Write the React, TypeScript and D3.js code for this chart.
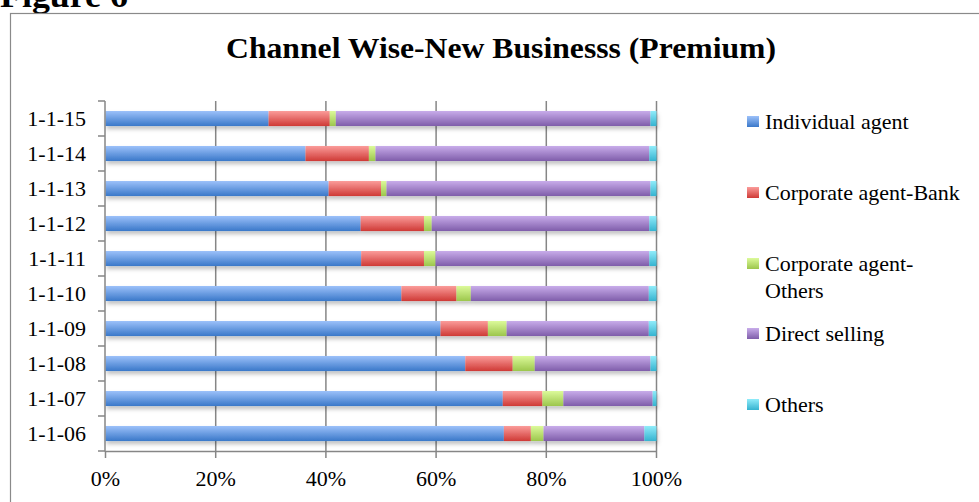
import React from "react";
import * as d3 from "d3";

const categories = ["1-1-06", "1-1-07", "1-1-08", "1-1-09", "1-1-10", "1-1-11", "1-1-12", "1-1-13", "1-1-14", "1-1-15"];
const seriesNames = ["Individual agent", "Corporate agent-Bank", "Corporate agent-Others", "Direct selling", "Others"];
const individualAgent = [72.3, 72.1, 65.3, 60.8, 53.7, 46.4, 46.3, 40.5, 36.3, 29.6];
const corporateBank = [4.9, 7.2, 8.6, 8.6, 10.0, 11.4, 11.5, 9.5, 11.5, 11.1];
const corporateOthers = [2.3, 3.8, 4.0, 3.4, 2.6, 2.1, 1.4, 1.0, 1.2, 1.1];
const directSelling = [18.3, 16.2, 21.0, 25.8, 32.3, 38.8, 39.5, 47.9, 49.7, 57.1];
const others = [2.2, 0.7, 1.1, 1.4, 1.4, 1.3, 1.3, 1.1, 1.3, 1.1];
const xTicks = [0, 20, 40, 60, 80, 100];

const gradients = [
  ["#9cc1fa", "#3a78c9"],
  ["#fb9c9a", "#cf3a36"],
  ["#dcfa9a", "#9cc64c"],
  ["#c8acea", "#7f5daa"],
  ["#90ecfa", "#35b3d0"],
];

const W = 979;
const H = 502;
const FONT = "'Liberation Serif', 'DejaVu Serif', serif";

export default function App() {
  const seriesValues = [individualAgent, corporateBank, corporateOthers, directSelling, others];
  const table = categories.map((c, i) => {
    const row: any = { cat: c };
    seriesNames.forEach((s, k) => (row[s] = seriesValues[k][i]));
    return row;
  });
  const stacked = d3.stack<any>().keys(seriesNames)(table);

  const x = d3.scaleLinear().domain([0, 100]).range([105.5, 656.5]);
  const y = d3
    .scaleBand<string>()
    .domain([...categories].reverse())
    .range([101, 451])
    .paddingInner(0.57)
    .paddingOuter(0.285);
  const step = y.step();

  const legendY = [121, 192, 263, 333, 404];

  return (
    <svg
      width={W}
      height={H}
      style={{ position: "absolute", left: 0, top: 0, display: "block", background: "#fff" }}
      fontFamily={FONT}
    >
      <defs>
        {gradients.map((g, i) => (
          <linearGradient key={i} id={`g${i}`} x1="0" y1="0" x2="0" y2="1">
            <stop offset="0" stopColor={g[0]} />
            <stop offset="1" stopColor={g[1]} />
          </linearGradient>
        ))}
        <filter id="shadow" x="-5%" y="-50%" width="110%" height="250%">
          <feDropShadow dx="1" dy="3" stdDeviation="2" floodColor="#000" floodOpacity="0.25" />
        </filter>
      </defs>
      <text x={0} y={7} fontSize={34} fontWeight="bold" fill="#000" textLength={128} lengthAdjust="spacingAndGlyphs">Figure 6</text>
      <rect x={10.5} y={13.5} width={W} height={H} fill="#fff" stroke="#8a8a8a" strokeWidth={1.2} />
      <text x={501} y={58} textAnchor="middle" fontSize={29} fontWeight="bold" fill="#000" textLength={550} lengthAdjust="spacingAndGlyphs">
        Channel Wise-New Businesss (Premium)
      </text>
      {/* gridlines */}
      {xTicks.slice(1).map((t) => (
        <line key={t} x1={x(t)} x2={x(t)} y1={101} y2={451} stroke="#868686" strokeWidth={1.5} />
      ))}
      {/* bars */}
      <g filter="url(#shadow)">
        {stacked.map((s, k) => (
          <g key={k} fill={`url(#g${k})`}>
            {s.map((d, i) => (
              <rect
                key={i}
                x={x(d[0])}
                y={y(d.data.cat)!}
                width={x(d[1]) - x(d[0])}
                height={y.bandwidth()}
              />
            ))}
          </g>
        ))}
      </g>
      {/* y axis */}
      <line x1={105} x2={105} y1={101} y2={451.5} stroke="#868686" strokeWidth={1.5} />
      {[...categories].reverse().map((c, i) => (
        <line key={"yt" + i} x1={98} x2={105} y1={101 + i * step} y2={101 + i * step} stroke="#868686" strokeWidth={1.5} />
      ))}
      <line x1={98} x2={105} y1={451} y2={451} stroke="#868686" strokeWidth={1.5} />
      {categories.map((c) => (
        <text
          key={c}
          x={86}
          y={y(c)! + y.bandwidth() / 2}
          dy="0.35em"
          textAnchor="end"
          fontSize={22}
          fill="#000"
        >
          {c}
        </text>
      ))}
      {/* x axis */}
      <line x1={105} x2={657} y1={451.5} y2={451.5} stroke="#868686" strokeWidth={1.5} />
      {xTicks.map((t) => (
        <g key={"xt" + t}>
          <line x1={x(t)} x2={x(t)} y1={451} y2={458} stroke="#868686" strokeWidth={1.5} />
          <text x={x(t)} y={478} dy="0.35em" textAnchor="middle" fontSize={22} fill="#000">
            {t}%
          </text>
        </g>
      ))}
      {/* legend */}
      {seriesNames.map((s, k) => {
        const lines = s === "Corporate agent-Others" ? ["Corporate agent-", "Others"] : [s];
        return (
          <g key={s}>
            <rect x={747} y={legendY[k] - 5} width={12} height={11} fill={`url(#g${k})`} />
            {lines.map((ln, j) => (
              <text key={j} x={765} y={legendY[k] + j * 27} dy="0.35em" fontSize={22} fill="#000">
                {ln}
              </text>
            ))}
          </g>
        );
      })}
    </svg>
  );
}
